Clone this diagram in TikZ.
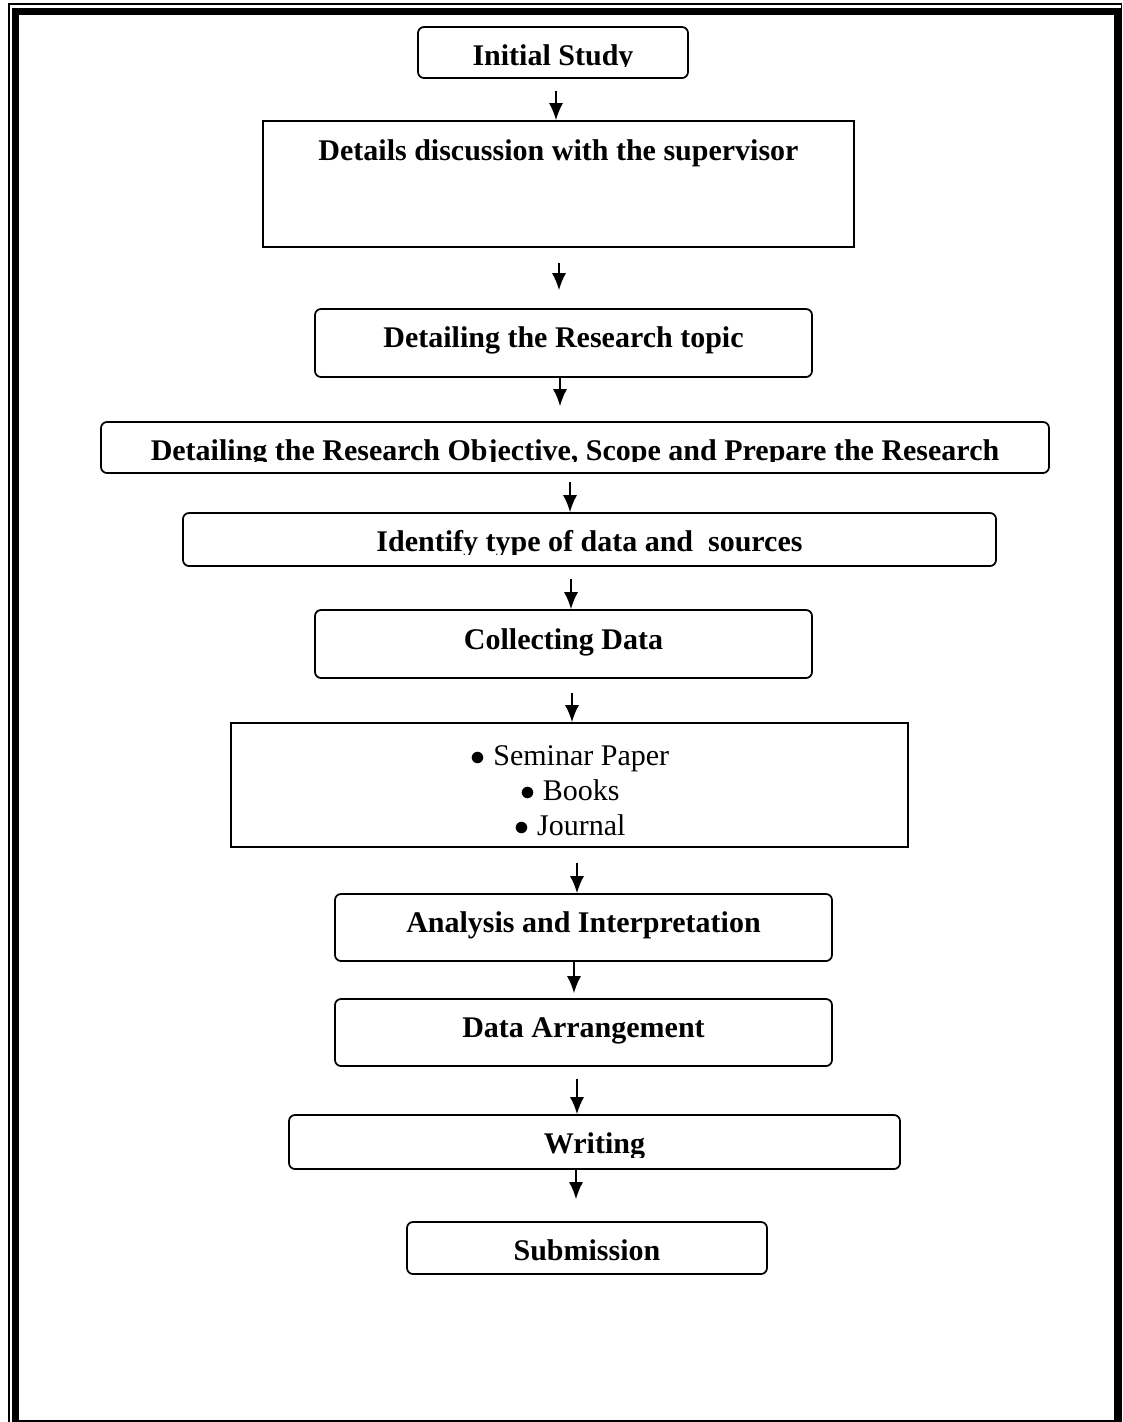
\documentclass[tikz,border=0pt]{standalone}
\usepackage{fontspec}
\setmainfont{Liberation Serif}
\usetikzlibrary{arrows.meta,fit}

\begin{document}
\begin{tikzpicture}[x=0.4pt,y=-0.4pt,>={Latex[length=6.8pt,width=5.6pt]},
    box/.style={draw,line width=0.7pt,inner sep=0pt},
    rbox/.style={box,rounded corners=2.4pt},
    head/.style={anchor=base,inner sep=0pt,font=\bfseries\fontsize{12}{14}\selectfont},
    item/.style={anchor=base,inner sep=0pt,font=\fontsize{12}{14}\selectfont},
    arr/.style={->,line width=0.6pt}]
  \useasboundingbox (0,0) rectangle (1123,1422);
  % page border
  \begin{scope}
    \clip (0,0) rectangle (1123,1422);
    \draw[line width=0.5pt] (9,4) rectangle (1121.5,1440);
    \draw[line width=2.8pt] (15,11) rectangle (1117,1423.5);
  \end{scope}

  % boxes
  \node[rbox,fit={(418,27) (688,78)}] (study) {};
  \node[box,fit={(263,121) (854,247)}] (disc) {};
  \node[rbox,fit={(315,309) (812,377)}] (topic) {};
  \node[rbox,fit={(101,422) (1049,473)}] (obj) {};
  \node[rbox,fit={(183,513) (996,566)}] (src) {};
  \node[rbox,fit={(315,610) (812,678)}] (coll) {};
  \node[box,fit={(231,723) (908,847)}] (list) {};
  \node[rbox,fit={(335,894) (832,961)}] (anal) {};
  \node[rbox,fit={(335,999) (832,1066)}] (arrange) {};
  \node[rbox,fit={(289,1115) (900,1169)}] (writ) {};
  \node[rbox,fit={(407,1222) (767,1274)}] (sub) {};

  % texts (some are cut off at the bottom)
  \begin{scope}
    \clip (study.north west) rectangle ([yshift=4.8pt]study.south east);
    \node[head] (studyT) at ([yshift=-15.6pt]study.north) {Initial Study};
  \end{scope}
  \node[head] (discT) at ([yshift=-16pt]disc.north) {Details discussion with the supervisor};
  \node[head] (topicT) at ([yshift=-15.6pt]topic.north) {Detailing the Research topic};
  \begin{scope}
    \clip (obj.north west) rectangle ([yshift=4.8pt]obj.south east);
    \node[head] (objT) at ([yshift=-15.6pt]obj.north) {Detailing the Research Objective, Scope and Prepare the Research};
  \end{scope}
  \begin{scope}
    \clip (src.north west) rectangle ([yshift=5pt]src.south east);
    \node[head] (srcT) at ([yshift=-15.6pt]src.north) {Identify type of data and\ \ sources};
  \end{scope}
  \node[head] (collT) at ([yshift=-16pt]coll.north) {Collecting Data};
  \node[item] (it1) at (570,765) {$\bullet$ Seminar Paper};
  \node[item] (it2) at (570,800) {$\bullet$ Books};
  \node[item] (it3) at (570,835) {$\bullet$ Journal};
  \node[head] (analT) at ([yshift=-15.6pt]anal.north) {Analysis and Interpretation};
  \node[head] (arrangeT) at ([yshift=-15.6pt]arrange.north) {Data Arrangement};
  \begin{scope}
    \clip (writ.north west) rectangle ([yshift=4.8pt]writ.south east);
    \node[head] (writT) at ([yshift=-15.6pt]writ.north) {Writing};
  \end{scope}
  \node[head] (subT) at ([yshift=-15.6pt]sub.north) {Submission};

  % arrows
  \draw[arr,shorten <=4.8pt] (study.south -| 556,0) -- (disc.north -| 556,0);
  \draw[arr,shorten <=6pt,shorten >=7.2pt] (disc.south -| 559,0) -- (topic.north -| 559,0);
  \draw[arr,shorten >=6pt] (topic.south -| 560,0) -- (obj.north -| 560,0);
  \draw[arr,shorten <=3.2pt] (obj.south -| 570,0) -- (src.north -| 570,0);
  \draw[arr,shorten <=4.8pt] (src.south -| 571,0) -- (coll.north -| 571,0);
  \draw[arr,shorten <=5.6pt] (coll.south -| 572,0) -- (list.north -| 572,0);
  \draw[arr,shorten <=6pt] (list.south -| 577,0) -- (anal.north -| 577,0);
  \draw[arr,shorten >=2pt] (anal.south -| 574,0) -- (arrange.north -| 574,0);
  \draw[arr,shorten <=4.8pt] (arrange.south -| 577,0) -- (writ.north -| 577,0);
  \draw[arr,shorten >=8.8pt] (writ.south -| 576,0) -- (sub.north -| 576,0);
\end{tikzpicture}
\end{document}
